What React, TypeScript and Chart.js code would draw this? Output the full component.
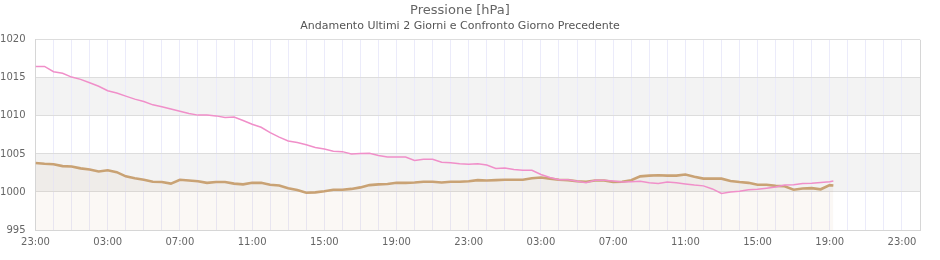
import React, { useEffect, useRef } from 'react';
import { Chart, registerables } from 'chart.js';

Chart.register(...registerables);

const chartTitle = 'Pressione [hPa]';
const chartSubtitle = 'Andamento Ultimi 2 Giorni e Confronto Giorno Precedente';

const times = [
  '23:00', '23:30', '00:00', '00:30', '01:00', '01:30', '02:00', '02:30', '03:00', '03:30',
  '04:00', '04:30', '05:00', '05:30', '06:00', '06:30', '07:00', '07:30', '08:00', '08:30',
  '09:00', '09:30', '10:00', '10:30', '11:00', '11:30', '12:00', '12:30', '13:00', '13:30',
  '14:00', '14:30', '15:00', '15:30', '16:00', '16:30', '17:00', '17:30', '18:00', '18:30',
  '19:00', '19:30', '20:00', '20:30', '21:00', '21:30', '22:00', '22:30', '23:00', '23:30',
  '00:00', '00:30', '01:00', '01:30', '02:00', '02:30', '03:00', '03:30', '04:00', '04:30',
  '05:00', '05:30', '06:00', '06:30', '07:00', '07:30', '08:00', '08:30', '09:00', '09:30',
  '10:00', '10:30', '11:00', '11:30', '12:00', '12:30', '13:00', '13:30', '14:00', '14:30',
  '15:00', '15:30', '16:00', '16:30', '17:00', '17:30', '18:00', '18:30', '19:00', '19:12',
];

const pressioneUltimi2Giorni = [
  1016.5, 1016.5, 1015.8, 1015.6, 1015.1, 1014.8, 1014.35, 1013.9, 1013.3, 1013.0,
  1012.6, 1012.2, 1011.9, 1011.45, 1011.2, 1010.9, 1010.6, 1010.3, 1010.1, 1010.1,
  1010.0, 1009.8, 1009.85, 1009.4, 1008.9, 1008.5, 1007.8, 1007.2, 1006.7, 1006.5,
  1006.2, 1005.85, 1005.65, 1005.35, 1005.3, 1005.0, 1005.05, 1005.1, 1004.8, 1004.6,
  1004.6, 1004.6, 1004.15, 1004.3, 1004.3, 1003.9, 1003.85, 1003.7, 1003.65, 1003.7,
  1003.55, 1003.1, 1003.15, 1002.95, 1002.85, 1002.85, 1002.3, 1001.9, 1001.6, 1001.6,
  1001.4, 1001.2, 1001.55, 1001.55, 1001.45, 1001.3, 1001.35, 1001.4, 1001.2, 1001.1,
  1001.3, 1001.2, 1001.05, 1000.9, 1000.8, 1000.4, 999.8, 1000.0, 1000.1, 1000.3,
  1000.35, 1000.5, 1000.65, 1000.9, 1000.95, 1001.1, 1001.15, 1001.25, 1001.35, 1001.45,
];

const pressioneGiornoPrecedente = [
  1003.8, 1003.7, 1003.65, 1003.4, 1003.35, 1003.1, 1002.95, 1002.7, 1002.85, 1002.6,
  1002.05, 1001.8, 1001.6, 1001.35, 1001.3, 1001.1, 1001.6, 1001.5, 1001.4, 1001.2,
  1001.3, 1001.3, 1001.1, 1001.0, 1001.2, 1001.2, 1000.95, 1000.85, 1000.5, 1000.25,
  999.9, 999.95, 1000.1, 1000.3, 1000.3, 1000.4, 1000.6, 1000.9, 1001.0, 1001.05,
  1001.2, 1001.2, 1001.25, 1001.35, 1001.35, 1001.25, 1001.35, 1001.35, 1001.4, 1001.55,
  1001.5, 1001.55, 1001.6, 1001.6, 1001.6, 1001.8, 1001.9, 1001.75, 1001.6, 1001.55,
  1001.4, 1001.35, 1001.5, 1001.5, 1001.3, 1001.35, 1001.55, 1002.05, 1002.15, 1002.2,
  1002.15, 1002.15, 1002.3, 1002.0, 1001.75, 1001.75, 1001.75, 1001.45, 1001.3, 1001.2,
  1000.95, 1000.95, 1000.8, 1000.75, 1000.3, 1000.45, 1000.5, 1000.35, 1000.9, 1000.85,
];

const xTickLabels = [
  '23:00', '03:00', '07:00', '11:00', '15:00', '19:00', '23:00',
  '03:00', '07:00', '11:00', '15:00', '19:00', '23:00',
];

const yMin = 995;
const yMax = 1020;
const yStep = 5;
const xSpanHours = 49;
const startHour = 23;
const shadedBands: [number, number][] = [
  [1000, 1005],
  [1010, 1015],
];

function toOffsets(ts: string[]): number[] {
  let day = 0;
  let prev = -1;
  return ts.map((t) => {
    const [h, m] = t.split(':').map(Number);
    const v = h + m / 60;
    if (prev >= 0 && v < prev) day++;
    prev = v;
    return v + day * 24 - startHour;
  });
}

const bandPlugin = {
  id: 'bands',
  beforeDraw(chart: any) {
    const { ctx, chartArea, scales } = chart;
    const y = scales.y;
    ctx.save();
    ctx.fillStyle = '#f3f3f3';
    shadedBands.forEach(([a, b]) => {
      const y1 = y.getPixelForValue(b);
      const y2 = y.getPixelForValue(a);
      ctx.fillRect(chartArea.left, y1, chartArea.right - chartArea.left, y2 - y1);
    });
    ctx.restore();
  },
};

export default function App() {
  const ref = useRef<HTMLCanvasElement | null>(null);

  useEffect(() => {
    if (!ref.current) return;
    const xs = toOffsets(times);
    const chart = new Chart(ref.current, {
      type: 'line',
      data: {
        datasets: [
          {
            label: 'Ultimi 2 Giorni',
            data: xs.map((x, i) => ({ x, y: pressioneUltimi2Giorni[i] })),
            borderColor: '#f08fc9',
            borderWidth: 1.5,
            pointRadius: 0,
            tension: 0,
            fill: false,
          },
          {
            label: 'Giorno Precedente',
            data: xs.map((x, i) => ({ x, y: pressioneGiornoPrecedente[i] })),
            borderColor: '#c9a274',
            backgroundColor: 'rgba(201,162,116,0.07)',
            borderWidth: 2.6,
            pointRadius: 0,
            tension: 0,
            fill: 'start',
          },
        ],
      },
      options: {
        animation: false,
        responsive: true,
        maintainAspectRatio: false,
        layout: { padding: { left: 0, right: 20, top: 0, bottom: 0 } },
        plugins: {
          legend: { display: false },
          tooltip: { enabled: false },
          title: {
            display: true,
            text: chartTitle,
            color: '#666',
            font: { family: 'DejaVu Sans', size: 13, weight: 'normal' },
            padding: { top: 3, bottom: 0 },
          },
          subtitle: {
            display: true,
            text: chartSubtitle,
            color: '#555',
            font: { family: 'DejaVu Sans', size: 11, weight: 'normal' },
            padding: { top: 1, bottom: 7 },
          },
        },
        scales: {
          x: {
            type: 'linear',
            min: 0,
            max: xSpanHours,
            afterFit: (s: any) => {
              s.height = 30;
            },
            ticks: {
              stepSize: 1,
              autoSkip: false,
              maxRotation: 0,
              padding: 6,
              color: '#666',
              font: { family: 'DejaVu Sans', size: 10 },
              callback: (v: any) => (Number(v) % 4 === 0 ? xTickLabels[Number(v) / 4] : ''),
            },
            grid: {
              drawTicks: false,
              color: (c: any) =>
                c.tick && (c.tick.value === 0 || c.tick.value === xSpanHours) ? '#d6d6d6' : '#ebebfa',
              lineWidth: 1,
            },
            border: { display: true, color: '#d6d6d6' },
          },
          y: {
            type: 'linear',
            min: yMin,
            max: yMax,
            afterFit: (s: any) => {
              s.width = 35.5;
            },
            ticks: {
              stepSize: yStep,
              padding: 10,
              color: '#666',
              font: { family: 'DejaVu Sans', size: 10 },
              callback: (v: any) => String(v),
            },
            grid: { drawTicks: false, color: '#dddddd' },
            border: { display: true, color: '#d6d6d6' },
          },
        },
      },
      plugins: [bandPlugin],
    });
    return () => chart.destroy();
  }, []);

  return (
    <div style={{ position: 'fixed', left: 0, top: 0, width: 940, height: 260 }}>
      <canvas ref={ref} />
    </div>
  );
}
